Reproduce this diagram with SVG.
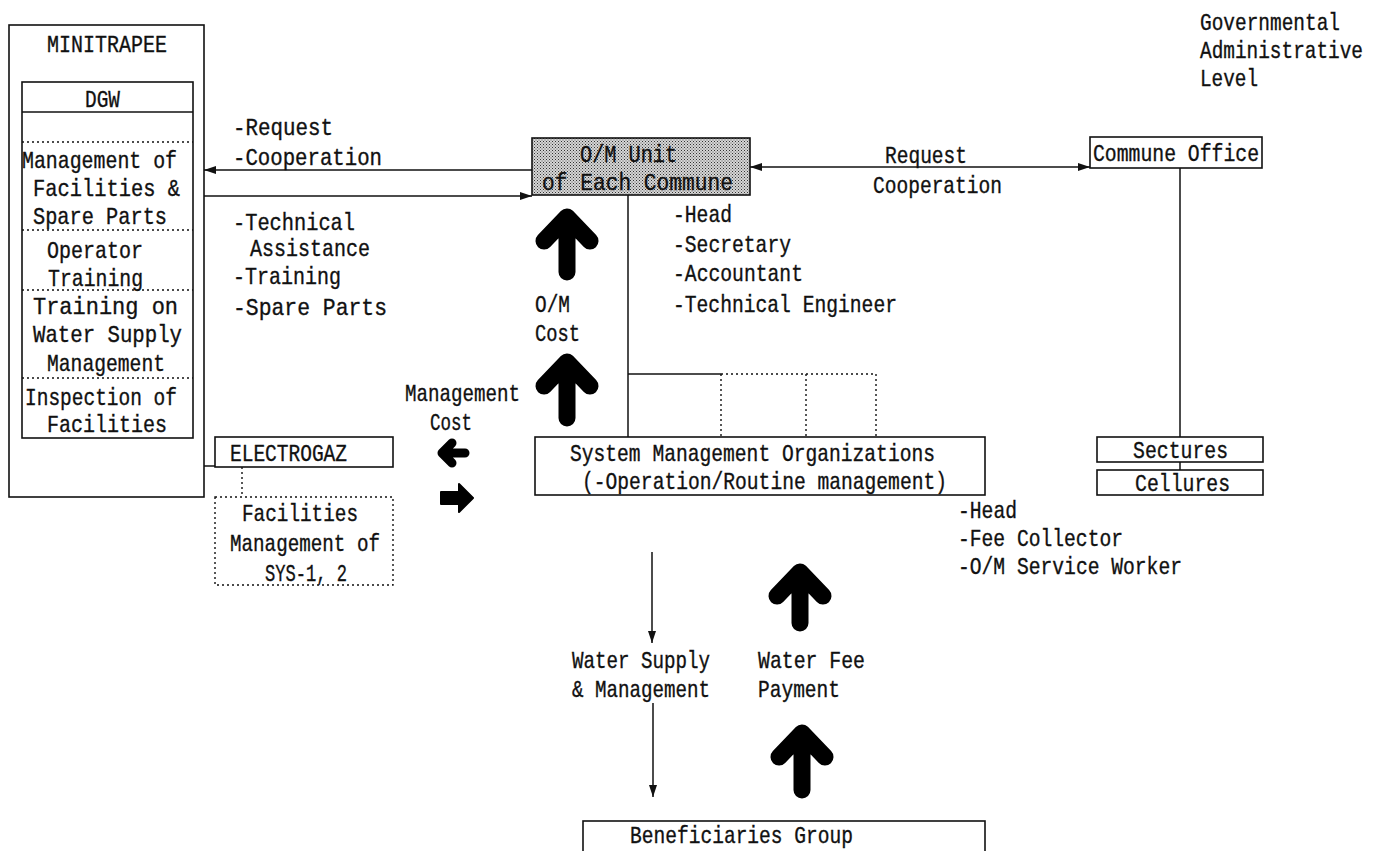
<svg xmlns="http://www.w3.org/2000/svg" width="1376" height="851" viewBox="0 0 1376 851">
<style>
.t{font-family:"Liberation Mono","DejaVu Sans Mono",monospace;font-size:24px;fill:#111;stroke:#111;stroke-width:0.35}
.b{fill:none;stroke:#111;stroke-width:1.6}
.d{fill:none;stroke:#111;stroke-width:1.4;stroke-dasharray:2 3}
.c{fill:none;stroke:#111;stroke-width:1.5}
.big{fill:none;stroke:#000;stroke-width:17;stroke-linecap:round;stroke-linejoin:round}
.sm{fill:none;stroke:#000;stroke-width:9;stroke-linecap:round;stroke-linejoin:round}
</style>
<defs>
<pattern id="hatch" width="3" height="3" patternUnits="userSpaceOnUse">
<rect width="3" height="3" fill="#d6d6d6"/>
<rect x="0" y="0" width="1" height="1" fill="#333"/>
<rect x="1.5" y="1.5" width="1" height="1" fill="#555"/>
</pattern>
<marker id="ah" viewBox="0 0 12 8" refX="12" refY="4" markerWidth="12" markerHeight="8" markerUnits="userSpaceOnUse" orient="auto-start-reverse">
<path d="M0,0 L12,4 L0,8 z" fill="#111"/>
</marker>
</defs>
<rect width="1376" height="851" fill="#fff"/>

<g id="minitrapee">
<rect class="b" x="9" y="25" width="195" height="472"/>
<text class="t" x="47" y="52" textLength="120" lengthAdjust="spacingAndGlyphs">MINITRAPEE</text>
</g>

<g id="dgw">
<rect class="b" x="22" y="82" width="171" height="356"/>
<line class="b" x1="22" y1="112" x2="193" y2="112"/>
<line class="d" x1="22" y1="142" x2="193" y2="142"/>
<line class="d" x1="22" y1="230" x2="193" y2="230"/>
<line class="d" x1="22" y1="290" x2="193" y2="290"/>
<line class="d" x1="22" y1="378" x2="193" y2="378"/>
<text class="t" x="85" y="107" textLength="35" lengthAdjust="spacingAndGlyphs">DGW</text>
<text class="t" x="22" y="168" textLength="155" lengthAdjust="spacingAndGlyphs">Management of</text>
<text class="t" x="33" y="196" textLength="147" lengthAdjust="spacingAndGlyphs">Facilities &amp;</text>
<text class="t" x="33" y="224" textLength="134" lengthAdjust="spacingAndGlyphs">Spare Parts</text>
<text class="t" x="47" y="258" textLength="96" lengthAdjust="spacingAndGlyphs">Operator</text>
<text class="t" x="48" y="286" textLength="95" lengthAdjust="spacingAndGlyphs">Training</text>
<text class="t" x="33" y="314" textLength="145" lengthAdjust="spacingAndGlyphs">Training on</text>
<text class="t" x="33" y="342" textLength="149" lengthAdjust="spacingAndGlyphs">Water Supply</text>
<text class="t" x="47" y="371" textLength="118" lengthAdjust="spacingAndGlyphs">Management</text>
<text class="t" x="25" y="405" textLength="152" lengthAdjust="spacingAndGlyphs">Inspection of</text>
<text class="t" x="47" y="432" textLength="120" lengthAdjust="spacingAndGlyphs">Facilities</text>
</g>

<g id="electrogaz">
<rect class="b" x="215" y="437" width="178" height="30"/>
<text class="t" x="230" y="461" textLength="117" lengthAdjust="spacingAndGlyphs">ELECTROGAZ</text>
</g>

<g id="facilities-sys">
<rect class="d" x="215" y="497" width="178" height="88"/>
<text class="t" x="242" y="521" textLength="116" lengthAdjust="spacingAndGlyphs">Facilities</text>
<text class="t" x="230" y="551" textLength="150" lengthAdjust="spacingAndGlyphs">Management of</text>
<text class="t" x="265" y="581" textLength="82" lengthAdjust="spacingAndGlyphs">SYS-1, 2</text>
</g>

<g id="om-unit">
<rect x="532" y="138" width="218" height="57" fill="url(#hatch)" stroke="#111" stroke-width="1.6"/>
<text class="t" x="580" y="162" textLength="97" lengthAdjust="spacingAndGlyphs">O/M Unit</text>
<text class="t" x="542" y="190" textLength="191" lengthAdjust="spacingAndGlyphs">of Each Commune</text>
</g>

<g id="commune-office">
<rect class="b" x="1090" y="137" width="172" height="31"/>
<text class="t" x="1093" y="161" textLength="166" lengthAdjust="spacingAndGlyphs">Commune Office</text>
</g>

<g id="sectures">
<rect class="b" x="1097" y="437" width="166" height="25"/>
<text class="t" x="1133" y="458" textLength="95" lengthAdjust="spacingAndGlyphs">Sectures</text>
</g>

<g id="cellures">
<rect class="b" x="1097" y="470" width="166" height="25"/>
<text class="t" x="1135" y="491" textLength="95" lengthAdjust="spacingAndGlyphs">Cellures</text>
</g>

<g id="smo">
<rect class="b" x="535" y="437" width="450" height="58"/>
<text class="t" x="570" y="461" textLength="365" lengthAdjust="spacingAndGlyphs">System Management Organizations</text>
<text class="t" x="582" y="489" textLength="365" lengthAdjust="spacingAndGlyphs">(-Operation/Routine management)</text>
</g>

<g id="beneficiaries">
<rect class="b" x="583" y="821" width="402" height="40"/>
<text class="t" x="630" y="843" textLength="223" lengthAdjust="spacingAndGlyphs">Beneficiaries Group</text>
</g>

<g id="labels">
<text class="t" x="1200" y="30" textLength="140" lengthAdjust="spacingAndGlyphs">Governmental</text>
<text class="t" x="1200" y="58" textLength="163" lengthAdjust="spacingAndGlyphs">Administrative</text>
<text class="t" x="1200" y="86" textLength="58" lengthAdjust="spacingAndGlyphs">Level</text>

<text class="t" x="233" y="135" textLength="100" lengthAdjust="spacingAndGlyphs">-Request</text>
<text class="t" x="233" y="165" textLength="149" lengthAdjust="spacingAndGlyphs">-Cooperation</text>
<text class="t" x="233" y="230" textLength="122" lengthAdjust="spacingAndGlyphs">-Technical</text>
<text class="t" x="250" y="256" textLength="120" lengthAdjust="spacingAndGlyphs">Assistance</text>
<text class="t" x="233" y="284" textLength="108" lengthAdjust="spacingAndGlyphs">-Training</text>
<text class="t" x="233" y="315" textLength="154" lengthAdjust="spacingAndGlyphs">-Spare Parts</text>

<text class="t" x="885" y="163" textLength="82" lengthAdjust="spacingAndGlyphs">Request</text>
<text class="t" x="873" y="193" textLength="129" lengthAdjust="spacingAndGlyphs">Cooperation</text>

<text class="t" x="673" y="222" textLength="59" lengthAdjust="spacingAndGlyphs">-Head</text>
<text class="t" x="673" y="252" textLength="118" lengthAdjust="spacingAndGlyphs">-Secretary</text>
<text class="t" x="673" y="281" textLength="130" lengthAdjust="spacingAndGlyphs">-Accountant</text>
<text class="t" x="673" y="312" textLength="224" lengthAdjust="spacingAndGlyphs">-Technical Engineer</text>

<text class="t" x="535" y="312" textLength="35" lengthAdjust="spacingAndGlyphs">O/M</text>
<text class="t" x="535" y="341" textLength="45" lengthAdjust="spacingAndGlyphs">Cost</text>

<text class="t" x="405" y="401" textLength="115" lengthAdjust="spacingAndGlyphs">Management</text>
<text class="t" x="430" y="430" textLength="42" lengthAdjust="spacingAndGlyphs">Cost</text>

<text class="t" x="958" y="518" textLength="59" lengthAdjust="spacingAndGlyphs">-Head</text>
<text class="t" x="958" y="546" textLength="165" lengthAdjust="spacingAndGlyphs">-Fee Collector</text>
<text class="t" x="958" y="574" textLength="224" lengthAdjust="spacingAndGlyphs">-O/M Service Worker</text>

<text class="t" x="572" y="668" textLength="138" lengthAdjust="spacingAndGlyphs">Water Supply</text>
<text class="t" x="572" y="697" textLength="138" lengthAdjust="spacingAndGlyphs">&amp; Management</text>
<text class="t" x="758" y="668" textLength="107" lengthAdjust="spacingAndGlyphs">Water Fee</text>
<text class="t" x="758" y="697" textLength="82" lengthAdjust="spacingAndGlyphs">Payment</text>
</g>

<g id="connectors">
<line class="c" x1="532" y1="170" x2="204" y2="170" marker-end="url(#ah)"/>
<line class="c" x1="204" y1="196" x2="532" y2="196" marker-end="url(#ah)"/>
<line class="c" x1="750" y1="167" x2="1090" y2="167" marker-start="url(#ah)" marker-end="url(#ah)"/>
<line class="c" x1="204" y1="466" x2="215" y2="466"/>
<line class="d" x1="242" y1="467" x2="242" y2="497"/>
<line class="c" x1="628" y1="195" x2="628" y2="437"/>
<line class="c" x1="628" y1="374" x2="721" y2="374"/>
<polyline class="d" points="721,374 876,374 876,437"/>
<line class="d" x1="721" y1="374" x2="721" y2="437"/>
<line class="d" x1="806" y1="374" x2="806" y2="437"/>
<line class="c" x1="1180" y1="168" x2="1180" y2="437"/>
<line class="c" x1="1180" y1="462" x2="1180" y2="470"/>
<line class="c" x1="652" y1="552" x2="652" y2="643" marker-end="url(#ah)"/>
<line class="c" x1="653" y1="703" x2="653" y2="797" marker-end="url(#ah)"/>
<path class="big" d="M544,241 L567,217 L590,241 M567,221 L567,272"/>
<path class="big" d="M544,386 L567,362 L590,386 M567,366 L567,418"/>
<path class="big" d="M777,596 L800,572 L823,596 M800,576 L800,623"/>
<path class="big" d="M779,757 L802,733 L825,757 M802,737 L802,790"/>
<path class="sm" d="M452,443 L442,453 L452,463 M445,453 L465,453"/>
<path d="M441,492 L459,492 L459,484 L473,498 L459,512 L459,504 L441,504 Z" fill="#000" stroke="#000" stroke-width="2" stroke-linejoin="round"/>
</g>
</svg>
